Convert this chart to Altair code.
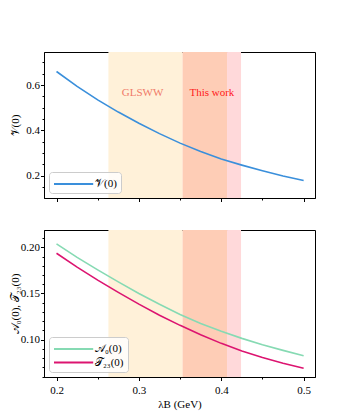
import altair as alt
import pandas as pd

# ---- data ----
lam = [0.2, 0.225, 0.25, 0.275, 0.3, 0.325, 0.35, 0.375, 0.4, 0.425, 0.45, 0.475, 0.5]
V0 = [0.660, 0.594, 0.535, 0.481, 0.432, 0.386, 0.344, 0.307, 0.274, 0.247, 0.222, 0.199, 0.179]
A0 = [0.2036, 0.1890, 0.1755, 0.1625, 0.1500, 0.1383, 0.1273, 0.1175, 0.1090, 0.1014, 0.0946, 0.0884, 0.0827]
T23 = [0.1935, 0.1785, 0.1645, 0.1512, 0.1385, 0.1265, 0.1155, 0.1053, 0.0960, 0.0878, 0.0808, 0.0745, 0.0690]

# shaded λB ranges: GLSWW only, overlap, This work only
band_lo = [0.263, 0.353, 0.407]
band_hi = [0.353, 0.407, 0.424]
band_colors = ["#fff1d9", "#fecdb6", "#ffd9da"]

label_text = ["GLSWW", "This work"]
label_x = [0.3045, 0.3886]
label_y = [0.566, 0.566]
label_colors = ["#f07a68", "#ff1a1a"]

x_ticks = [0.2, 0.25, 0.3, 0.35, 0.4, 0.45, 0.5]
top_y_ticks = [0.15, 0.2, 0.25, 0.3, 0.35, 0.4, 0.45, 0.5, 0.55, 0.6, 0.65, 0.7]
bot_y_ticks = [0.06, 0.07, 0.08, 0.09, 0.10, 0.11, 0.12, 0.13, 0.14, 0.15,
               0.16, 0.17, 0.18, 0.19, 0.20, 0.21]

top_series = ["𝒱(0)"]
top_colors = ["#3a8fdb"]
bot_series = ["𝒜₀(0)", "𝒯₂₃(0)"]
bot_colors = ["#86dab3", "#dc1470"]

FONT = "Liberation Serif"
X_DOMAIN = [0.1848, 0.5138]

top_df = pd.DataFrame({"lam": lam, "val": V0, "series": top_series[0]})
bot_df = pd.concat([
    pd.DataFrame({"lam": lam, "val": A0, "series": bot_series[0]}),
    pd.DataFrame({"lam": lam, "val": T23, "series": bot_series[1]}),
])
band_df = pd.DataFrame({"lo": band_lo, "hi": band_hi, "c": band_colors})
label_df = pd.DataFrame({"t": label_text, "x": label_x, "y": label_y, "c": label_colors})


def tick_size(mult):
    return {"condition": {"test": f"abs(datum.value*{mult} - round(datum.value*{mult})) < 1e-6",
                          "value": 3.5}, "value": 2}


def label_expr(mult, fmt):
    return (f"abs(datum.value*{mult} - round(datum.value*{mult})) < 1e-6 "
            f"? format(datum.value, '{fmt}') : ''")


def x_axis(show_labels):
    return alt.Axis(values=x_ticks, tickSize=tick_size(10), grid=False,
                    labelExpr=label_expr(10, ".1f"), labels=show_labels,
                    labelOverlap=False, labelPadding=3.5, titlePadding=3,
                    title="λB (GeV)" if show_labels else None)


def y_axis(yticks, ymult, yfmt, ytitle, tpad):
    return alt.Axis(values=yticks, tickSize=tick_size(ymult), grid=False,
                    labelExpr=label_expr(ymult, yfmt), title=ytitle,
                    labelOverlap=False, titlePadding=tpad, labelPadding=1)


def panel(df, series, colors, ydomain, yticks, ymult, yfmt, ytitle, tpad,
          show_x, with_text, height):
    xscale = alt.Scale(domain=X_DOMAIN, nice=False, zero=False)
    yscale = alt.Scale(domain=ydomain, nice=False, zero=False)
    xax = x_axis(show_x)
    yax = y_axis(yticks, ymult, yfmt, ytitle, tpad)
    bands = alt.Chart(band_df).mark_rect().encode(
        x=alt.X("lo:Q", scale=xscale, axis=xax),
        x2="hi:Q",
        y=alt.value(0),
        y2=alt.value(height),
        color=alt.Color("c:N", scale=None),
    )
    lines = alt.Chart(df).mark_line(strokeWidth=1.6, clip=True).encode(
        x=alt.X("lam:Q", scale=xscale, axis=xax),
        y=alt.Y("val:Q", scale=yscale, axis=yax),
        color=alt.Color("series:N",
                        scale=alt.Scale(domain=series, range=colors),
                        legend=alt.Legend(title=None, orient="bottom-left",
                                          offset=5, symbolType="M-1,0H4.6",
                                          symbolSize=196, symbolStrokeWidth=1.8,
                                          symbolOpacity=1,
                                          labelFont=FONT, labelFontSize=11,
                                          labelColor="black",
                                          fillColor="rgba(255,255,255,0.8)",
                                          strokeColor="#cccccc",
                                          cornerRadius=3, padding=4, rowPadding=0.5,
                                          labelOffset=26)),
    )
    layers = [bands, lines]
    if with_text:
        txt = alt.Chart(label_df).mark_text(font=FONT, fontSize=11).encode(
            x=alt.X("x:Q", scale=xscale, axis=xax),
            y=alt.Y("y:Q", scale=yscale, axis=yax),
            text="t:N",
            color=alt.Color("c:N", scale=None))
        layers.append(txt)
    return alt.layer(*layers).properties(width=271, height=height)


top = panel(top_df, top_series, top_colors, [0.102, 0.746], top_y_ticks, 5, ".1f",
            "𝒱(0)", 5.5, False, True, 146)
bot = panel(bot_df, bot_series, bot_colors, [0.0596, 0.2187], bot_y_ticks, 20, ".2f",
            "𝒜₀(0), 𝒯₂₃(0)", 0, True, False, 147)

chart = alt.vconcat(top, bot, spacing=26).resolve_scale(color="independent").properties(
    padding={"left": 0, "top": 43, "right": 5, "bottom": 5}
).configure_view(stroke="black", strokeWidth=1).configure_axis(
    labelFont=FONT, titleFont=FONT, labelFontSize=11, titleFontSize=11,
    labelColor="black", titleColor="black", domainColor="black", tickColor="black",
    titleFontWeight="normal", tickWidth=1, domainWidth=1,
).configure_legend(labelFont=FONT)

chart.save("out.html", embed_options={"renderer": "svg", "actions": False})
